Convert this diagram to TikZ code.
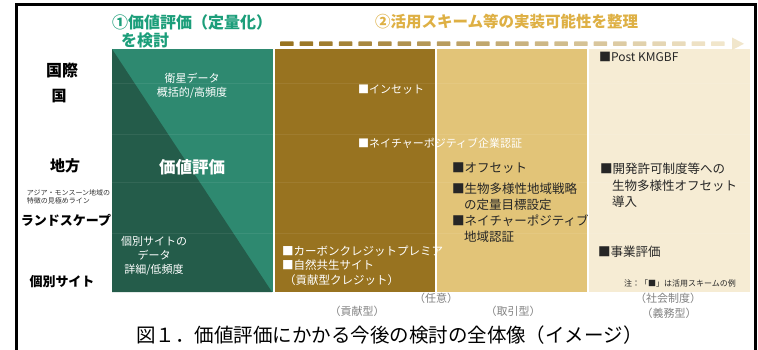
\documentclass[tikz,border=0pt]{standalone}
\usepackage{fontspec}
\newfontfamily\jp{Noto Sans CJK JP}
\definecolor{greenL}{RGB}{46,137,112}
\definecolor{greenD}{RGB}{36,92,74}
\definecolor{goldD}{RGB}{152,115,32}
\definecolor{goldM}{RGB}{226,196,120}
\definecolor{goldL}{RGB}{246,236,212}
\definecolor{titleG}{RGB}{28,158,122}
\definecolor{titleY}{RGB}{222,176,68}
\definecolor{grayT}{RGB}{130,130,130}
\tikzset{
  fs/.style={font=\jp\fontsize{#1}{#1}\selectfont},
  wtxt/.style={text=white, align=left, anchor=west},
  ktxt/.style={text=black!85, align=left, anchor=west},
  side/.style={text=black, font=\jp\bfseries\fontsize{#1}{#1}\selectfont},
  sub/.style={text=grayT, font=\jp\fontsize{11}{11}\selectfont},
}
\begin{document}
\begin{tikzpicture}[x=1pt,y=-1pt, every node/.style={inner sep=0pt, outer sep=0pt}]
\useasboundingbox (0,0) rectangle (758,350);
\fill[white] (0,0) rectangle (758,350);
% frame
\draw[line width=3pt] (16,352) -- (16,5) -- (755,5) -- (755,352);
% panels
\fill[greenL] (112,49) rectangle (273,292);
\fill[greenD] (112,49) -- (272,292) -- (112,292) -- cycle;
\fill[goldD] (275,49) rectangle (435,292);
\fill[goldM] (437,49) rectangle (587,292);
\fill[goldL] (589,49) rectangle (750,292);
\foreach \yy in {83,134,182,233}
  \draw[white, opacity=0.07, line width=0.8pt] (112,\yy) -- (750,\yy);
% gradient dashed arrow
\foreach \i in {0,...,22} {
  \pgfmathtruncatemacro\tt{100*\i/23}
  \fill[color=goldL!\tt!goldD, rounded corners=0.5pt] ({280+19.6*\i},41.5) rectangle ({293.5+19.6*\i},46);
}
\fill[goldL!95!goldD] (732,37.5) -- (744,43.8) -- (732,50) -- cycle;
% titles
\node[text=titleG, font=\jp\bfseries\fontsize{16}{16}\selectfont] (t1) at (192,22) {①価値評価（定量化）};
\node[text=titleG, font=\jp\bfseries\fontsize{16}{16}\selectfont, anchor=west] (t1b) at (121,40) {を検討};
\node[text=titleY, font=\jp\bfseries\fontsize{15.5}{15.5}\selectfont, anchor=west] (t2) at (375,22) {②活用スキーム等の実装可能性を整理};
% side labels
\node[side=16] (s1) at (62,70) {国際};
\node[side=15] (s2) at (59,96) {国};
\node[side=15] (s3) at (65,166) {地方};
\node[text=black!80, font=\jp\fontsize{7}{8}\selectfont, align=left, anchor=west] (s4) at (27,196.5) {アジア・モンスーン地域の\\特徴の見極めライン};
\node[side=13] (s5) at (66,220) {ランドスケープ};
\node[side=13] (s6) at (62,282) {個別サイト};
% green panel text
\node[text=white, fs=11, align=center] (g1) at (192,86) {衛星データ\\[3pt]概括的/高頻度};
\node[text=white, font=\jp\bfseries\fontsize{16.5}{16.5}\selectfont] (g2) at (192,167) {価値評価};
\node[text=white, fs=11, align=center] (g3) at (154,256) {個別サイトの\\[3pt]データ\\[3pt]詳細/低頻度};
% dark gold panel text
\node[wtxt, fs=11] (d1) at (358,90) {■インセット};
\node[wtxt, fs=11] (d2) at (358,143) {■ネイチャーポジティブ企業認証};
\node[wtxt, fs=11.5] (d3) at (282,251) {■カーボンクレジットプレミア};
\node[wtxt, fs=11.5] (d4) at (282,265) {■自然共生サイト};
\node[wtxt, fs=11.5] (d5) at (284,280) {（貢献型クレジット）};
% medium gold panel text
\node[ktxt, fs=12.5] (m1) at (452,168) {■オフセット};
\node[ktxt, fs=12.5] (m2) at (452,189) {■生物多様性地域戦略};
\node[ktxt, fs=12.5] (m3) at (464,205) {の定量目標設定};
\node[ktxt, fs=12.5] (m4) at (452,221) {■ネイチャーポジティブ};
\node[ktxt, fs=12.5] (m5) at (464,237) {地域認証};
% light panel text
\node[ktxt, fs=12] (l1) at (599,57) {■Post KMGBF};
\node[ktxt, fs=12.5] (l2) at (600,169) {■開発許可制度等への};
\node[ktxt, fs=12.5] (l3) at (612,186) {生物多様性オフセット};
\node[ktxt, fs=12.5] (l4) at (612,202) {導入};
\node[ktxt, fs=12.5] (l5) at (598,252) {■事業評価};
\node[ktxt, fs=8] (l6) at (624,283) {注：「■」は活用スキームの例};
% sub labels
\node[sub] (b1) at (436,298) {（任意）};
\node[sub] (b2) at (357,311) {（貢献型）};
\node[sub] (b3) at (513,311) {（取引型）};
\node[sub] (b4) at (668,298) {（社会制度）};
\node[sub] (b5) at (669,313) {（義務型）};
% caption
\node[text=black, fs=19.5, anchor=west] (cap) at (136,335) {図１．価値評価にかかる今後の検討の全体像（イメージ）};
\end{tikzpicture}
\end{document}
